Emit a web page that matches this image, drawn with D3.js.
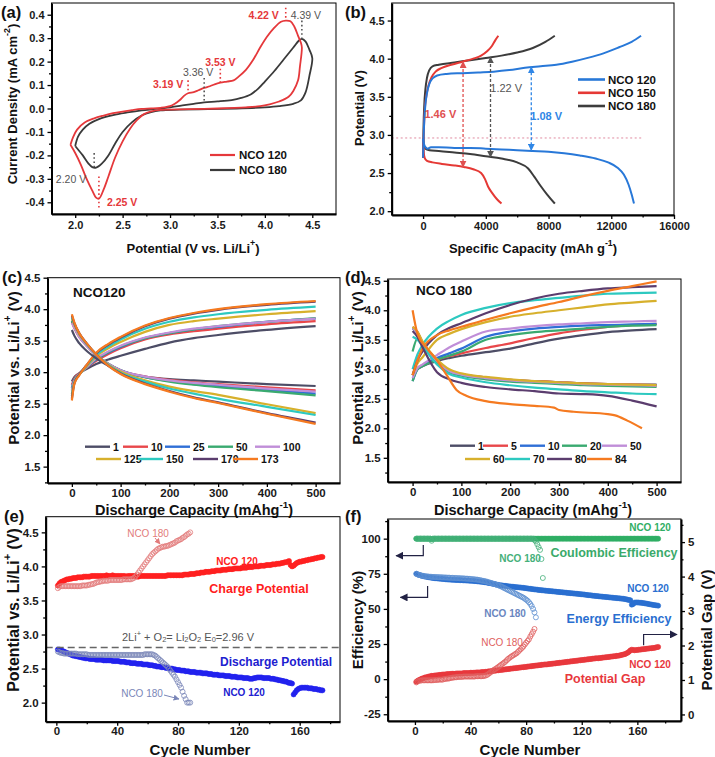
<!DOCTYPE html>
<html><head><meta charset="utf-8">
<script src="https://cdn.jsdelivr.net/npm/d3@7"></script>
<style>body{margin:0;background:#fff}svg{display:block}</style>
</head><body>
<script>
// ================= DATA =================
// (a) cyclic voltammetry, path order
const cvV120=[1.95,1.98,2.02,2.10,2.20,2.30,2.40,2.50,2.60,2.70,2.80,2.90,3.00,3.05,3.10,3.15,3.19,3.25,3.30,3.36,3.42,3.47,3.53,3.60,3.67,3.72,3.80,3.88,3.95,4.02,4.10,4.17,4.22,4.27,4.31,4.35,4.38,4.39,4.37,4.35,4.30,4.25,4.15,4.05,3.95,3.80,3.50,3.20,2.90,2.80,2.72,2.65,2.58,2.50,2.42,2.35,2.30,2.25,2.22,2.18,2.12,2.06,2.00,1.95];
const cvI120=[-0.155,-0.12,-0.09,-0.06,-0.042,-0.03,-0.02,-0.013,-0.007,-0.002,0.0,0.003,0.01,0.02,0.035,0.055,0.065,0.07,0.078,0.088,0.095,0.103,0.11,0.115,0.12,0.135,0.165,0.21,0.26,0.305,0.345,0.37,0.375,0.372,0.35,0.31,0.28,0.26,0.18,0.12,0.075,0.05,0.03,0.018,0.01,0.005,0.0,-0.003,-0.006,-0.012,-0.025,-0.05,-0.085,-0.14,-0.21,-0.29,-0.345,-0.385,-0.38,-0.35,-0.30,-0.24,-0.19,-0.155];
const cvV180=[2.00,2.03,2.08,2.15,2.25,2.40,2.55,2.70,2.85,3.00,3.15,3.25,3.36,3.50,3.65,3.75,3.85,3.93,4.00,4.10,4.20,4.30,4.36,4.39,4.43,4.47,4.50,4.47,4.43,4.38,4.30,4.15,4.00,3.70,3.40,3.10,2.90,2.80,2.70,2.60,2.50,2.42,2.35,2.28,2.22,2.18,2.14,2.08,2.03,2.00];
const cvI180=[-0.16,-0.12,-0.09,-0.065,-0.045,-0.028,-0.017,-0.008,-0.002,0.005,0.014,0.02,0.026,0.03,0.036,0.045,0.06,0.085,0.115,0.16,0.21,0.26,0.29,0.297,0.285,0.25,0.215,0.14,0.07,0.035,0.02,0.01,0.005,0.0,-0.003,-0.005,-0.008,-0.015,-0.03,-0.058,-0.10,-0.15,-0.20,-0.235,-0.252,-0.25,-0.235,-0.20,-0.175,-0.16];
const cvPeaks=[{v:4.22,top:0.43,bot:0.375,c:"red",label:"4.22 V"},{v:4.39,top:0.375,bot:0.30,c:"gray",label:"4.39 V"},{v:3.53,top:0.17,bot:0.11,c:"red",label:"3.53 V"},{v:3.36,top:0.13,bot:0.026,c:"gray",label:"3.36 V"},{v:3.19,top:0.12,bot:0.065,c:"red",label:"3.19 V"},{v:2.20,top:-0.19,bot:-0.25,c:"gray",label:"2.20 V"},{v:2.25,top:-0.29,bot:-0.425,c:"red",label:"2.25 V"}];

// (b) galvanostatic discharge/charge
const bChg120C=[0,30,80,150,250,400,600,900,1500,2500,3500,4500,5500,6500,7500,8500,9500,10500,11500,12500,13300,13900];
const bChg120V=[2.70,2.95,3.20,3.40,3.55,3.67,3.74,3.78,3.80,3.81,3.82,3.83,3.85,3.88,3.90,3.92,3.96,4.01,4.07,4.15,4.22,4.30];
const bDis120C=[0,60,150,300,500,1000,2000,3000,4000,5000,6000,7000,8000,9000,10000,11000,11800,12400,12800,13100,13300,13450];
const bDis120V=[2.95,2.88,2.84,2.82,2.84,2.84,2.83,2.83,2.82,2.81,2.80,2.79,2.78,2.76,2.73,2.69,2.64,2.57,2.48,2.35,2.22,2.10];
const bChg150C=[0,40,100,200,350,550,800,1200,1800,2500,3200,3700,4100,4400,4600,4800];
const bChg150V=[2.70,3.00,3.30,3.50,3.65,3.76,3.83,3.88,3.92,3.96,4.00,4.04,4.10,4.17,4.24,4.30];
const bDis150C=[0,40,100,250,600,1200,2000,2600,3200,3700,3950,4150,4400,4700,5000];
const bDis150V=[2.95,2.78,2.70,2.66,2.64,2.62,2.60,2.58,2.55,2.50,2.42,2.32,2.24,2.16,2.10];
const bChg180C=[0,30,80,150,250,400,600,1000,2000,3000,4000,5000,6000,7000,7800,8400];
const bChg180V=[2.70,3.10,3.40,3.60,3.75,3.85,3.90,3.92,3.95,3.98,4.01,4.04,4.08,4.14,4.22,4.30];
const bDis180C=[0,50,150,400,1000,2000,3000,4000,5000,6000,6700,7100,7500,7900,8400];
const bDis180V=[2.95,2.86,2.82,2.80,2.79,2.77,2.75,2.72,2.69,2.64,2.56,2.45,2.33,2.22,2.10];
const bGaps=[{c:2550,lo:2.58,hi:3.96,label:"1.46 V",col:"#e05050"},{c:4300,lo:2.71,hi:4.02,label:"1.22 V",col:"#555555"},{c:6900,lo:2.80,hi:3.89,label:"1.08 V",col:"#2f86e6"}];
const bEq=2.96;

// (c) NCO120 selected cycles
const capC=[0,5,15,30,50,75,100,150,200,250,300,400,500];
const cyclesC=["1","10","25","50","100","125","150","170","173"];
const chgC=[
[2.85,2.92,2.98,3.05,3.13,3.20,3.26,3.37,3.47,3.54,3.59,3.67,3.73],
[2.80,2.90,2.98,3.07,3.18,3.29,3.38,3.52,3.60,3.65,3.69,3.76,3.81],
[2.75,2.88,2.97,3.07,3.20,3.31,3.40,3.54,3.62,3.68,3.72,3.80,3.85],
[2.72,2.87,2.97,3.08,3.21,3.32,3.41,3.54,3.62,3.68,3.73,3.80,3.86],
[2.70,2.86,2.97,3.08,3.22,3.33,3.42,3.55,3.63,3.69,3.73,3.80,3.85],
[2.65,2.84,2.96,3.09,3.25,3.38,3.48,3.64,3.75,3.81,3.85,3.92,3.97],
[2.62,2.83,2.96,3.10,3.27,3.41,3.52,3.69,3.80,3.87,3.92,3.99,4.04],
[2.58,2.82,2.96,3.11,3.30,3.44,3.55,3.73,3.85,3.93,3.99,4.07,4.12],
[2.55,2.81,2.95,3.11,3.31,3.45,3.56,3.74,3.86,3.94,4.00,4.08,4.13]];
const disC=[
[3.67,3.58,3.46,3.34,3.22,3.10,3.01,2.93,2.89,2.87,2.85,2.81,2.78],
[3.80,3.70,3.56,3.42,3.27,3.13,3.03,2.93,2.88,2.84,2.81,2.76,2.71],
[3.82,3.72,3.57,3.43,3.27,3.13,3.03,2.92,2.86,2.81,2.78,2.72,2.66],
[3.82,3.72,3.57,3.43,3.27,3.13,3.03,2.92,2.85,2.80,2.76,2.70,2.63],
[3.78,3.70,3.56,3.42,3.27,3.13,3.03,2.93,2.87,2.83,2.80,2.74,2.69],
[3.85,3.75,3.60,3.45,3.28,3.12,3.01,2.87,2.77,2.70,2.64,2.49,2.35],
[3.87,3.77,3.61,3.45,3.28,3.11,2.99,2.85,2.74,2.66,2.58,2.45,2.32],
[3.90,3.78,3.62,3.46,3.28,3.10,2.98,2.82,2.70,2.60,2.52,2.35,2.20],
[3.92,3.79,3.62,3.46,3.28,3.10,2.97,2.81,2.69,2.59,2.51,2.34,2.18]];

// (d) NCO 180 selected cycles
const capD=[0,10,20,50,75,100,150,200,250,300,350,400,450,500];
const cyclesD=["1","5","10","20","50","60","70","80","84"];
const chgD=[
[2.90,3.00,3.05,3.14,3.19,3.23,3.29,3.35,3.44,3.52,3.58,3.63,3.66,3.68],
[2.90,3.02,3.07,3.16,3.22,3.27,3.36,3.44,3.53,3.61,3.67,3.72,3.75,3.77],
[2.80,3.00,3.06,3.19,3.27,3.35,3.55,3.64,3.69,3.72,3.74,3.75,3.76,3.77],
[2.80,3.00,3.05,3.16,3.23,3.30,3.50,3.58,3.63,3.66,3.69,3.72,3.74,3.75],
[2.85,3.02,3.08,3.24,3.37,3.47,3.64,3.69,3.73,3.76,3.78,3.80,3.81,3.82],
[2.90,3.10,3.20,3.50,3.60,3.68,3.80,3.89,3.95,4.00,4.05,4.10,4.13,4.16],
[3.00,3.25,3.41,3.69,3.82,3.92,4.04,4.12,4.17,4.21,4.25,4.28,4.29,4.30],
[2.90,3.15,3.30,3.58,3.70,3.78,3.95,4.09,4.20,4.28,4.33,4.37,4.39,4.41],
[2.90,3.15,3.35,3.58,3.66,3.72,3.84,3.95,4.05,4.14,4.24,4.33,4.41,4.49]];
const disD=[
[3.70,3.62,3.45,3.15,2.98,2.92,2.86,2.82,2.80,2.78,2.76,2.75,2.74,2.74],
[3.72,3.63,3.46,3.15,2.98,2.92,2.86,2.82,2.80,2.78,2.76,2.75,2.74,2.73],
[3.70,3.62,3.45,3.13,2.97,2.91,2.85,2.81,2.79,2.77,2.75,2.74,2.73,2.73],
[3.30,3.52,3.42,3.10,2.95,2.89,2.83,2.79,2.77,2.75,2.73,2.72,2.71,2.70],
[3.70,3.62,3.45,3.14,2.97,2.91,2.85,2.81,2.79,2.77,2.75,2.74,2.73,2.72],
[3.72,3.64,3.48,3.17,3.00,2.93,2.87,2.83,2.80,2.78,2.76,2.75,2.74,2.73],
[3.55,3.50,3.40,3.08,2.92,2.86,2.78,2.73,2.69,2.66,2.63,2.61,2.59,2.58],
[3.65,3.55,3.38,2.95,2.83,2.77,2.70,2.66,2.63,2.59,2.58,2.55,2.47,2.37],
null];
const capD84=[0,10,30,50,70,90,110,150,200,250,290,300,330,400,415,440,470];
const disD84=[4.00,3.60,3.35,3.15,2.90,2.65,2.55,2.46,2.41,2.38,2.35,2.31,2.28,2.24,2.22,2.13,2.00];
const lineColors=["#4d4d66","#e8474a","#2f6fd6","#3aaa70","#c08ed8","#d7b02c","#2dc9c0","#5b3d6e","#f57a20"];

// (e) cycling potentials (cycle n = index+1)
const chg120=[3.72,3.75,3.77,3.78,3.79,3.80,3.81,3.81,3.82,3.82,
3.83,3.83,3.83,3.84,3.84,3.84,3.84,3.85,3.85,3.85,
3.85,3.85,3.86,3.86,3.86,3.86,3.86,3.86,3.86,3.86,
3.86,3.86,3.87,3.86,3.86,3.86,3.87,3.86,3.86,3.86,
3.86,3.86,3.86,3.86,3.86,3.85,3.86,3.86,3.86,3.86,
3.86,3.86,3.85,3.85,3.86,3.86,3.86,3.86,3.86,3.86,
3.86,3.86,3.86,3.86,3.86,3.86,3.86,3.86,3.86,3.86,
3.86,3.86,3.87,3.87,3.87,3.87,3.87,3.87,3.87,3.87,
3.87,3.87,3.87,3.88,3.88,3.88,3.88,3.89,3.89,3.89,
3.89,3.90,3.90,3.90,3.91,3.91,3.91,3.92,3.92,3.92,
3.92,3.93,3.93,3.93,3.94,3.94,3.94,3.94,3.95,3.95,
3.95,3.95,3.96,3.96,3.96,3.96,3.97,3.97,3.97,3.97,
3.97,3.98,3.98,3.98,3.98,3.99,3.99,3.99,3.99,4.00,
4.00,4.00,4.00,4.01,4.01,4.01,4.01,4.02,4.02,4.02,
4.02,4.03,4.03,4.03,4.04,4.04,4.04,4.05,4.05,4.06,
4.06,4.07,4.08,4.02,4.00,
4.01,4.03,4.05,4.06,4.07,4.07,4.08,4.08,4.09,4.09,
4.10,4.10,4.11,4.11,4.12,4.12,4.13,4.13,4.14,4.14];
const dis120=[2.78,2.78,2.77,2.76,2.75,2.74,2.73,2.72,2.71,2.70,
2.69,2.69,2.68,2.68,2.67,2.67,2.66,2.66,2.65,2.65,
2.65,2.64,2.64,2.64,2.64,2.63,2.63,2.63,2.63,2.63,
2.62,2.62,2.62,2.62,2.62,2.62,2.61,2.61,2.61,2.61,
2.61,2.60,2.60,2.60,2.60,2.59,2.59,2.59,2.58,2.58,
2.58,2.58,2.57,2.57,2.57,2.57,2.56,2.56,2.56,2.56,
2.55,2.55,2.55,2.54,2.54,2.53,2.53,2.53,2.52,2.52,
2.52,2.51,2.51,2.50,2.50,2.50,2.49,2.49,2.48,2.48,
2.48,2.47,2.47,2.47,2.46,2.46,2.46,2.45,2.45,2.45,
2.45,2.44,2.44,2.44,2.44,2.43,2.43,2.43,2.43,2.42,
2.42,2.42,2.41,2.41,2.41,2.41,2.40,2.40,2.40,2.40,
2.39,2.39,2.39,2.39,2.38,2.38,2.38,2.38,2.37,2.37,
2.37,2.37,2.36,2.36,2.36,2.36,2.35,2.35,2.35,2.36,
2.36,2.37,2.37,2.37,2.37,2.36,2.36,2.36,2.36,2.36,
2.35,2.35,2.35,2.34,2.34,2.33,2.33,2.32,2.32,2.31,
2.31,2.30,2.29,2.29,2.28,
2.12,2.15,2.18,2.20,2.21,2.22,2.22,2.22,2.22,2.22,
2.21,2.21,2.21,2.20,2.20,2.20,2.19,2.19,2.18,2.18];
const chg180=[3.68,3.70,3.71,3.71,3.71,3.71,3.71,3.71,3.71,3.71,
3.71,3.71,3.71,3.71,3.71,3.71,3.72,3.72,3.72,3.72,
3.73,3.73,3.74,3.74,3.75,3.76,3.77,3.77,3.78,3.78,
3.79,3.79,3.79,3.79,3.80,3.80,3.80,3.80,3.80,3.80,
3.80,3.80,3.80,3.81,3.81,3.81,3.81,3.81,3.81,3.82,
3.83,3.85,3.88,3.91,3.94,3.97,4.00,4.03,4.06,4.09,
4.12,4.15,4.18,4.20,4.22,4.24,4.26,4.27,4.28,4.29,
4.29,4.30,4.30,4.31,4.32,4.33,4.34,4.35,4.37,4.38,
4.39,4.40,4.42,4.43,4.45,4.47,4.48,4.50];
const dis180=[2.75,2.74,2.73,2.73,2.72,2.72,2.72,2.72,2.72,2.72,
2.72,2.72,2.72,2.71,2.71,2.71,2.71,2.71,2.71,2.71,
2.70,2.70,2.70,2.70,2.70,2.70,2.70,2.70,2.70,2.70,
2.70,2.70,2.70,2.70,2.70,2.70,2.70,2.70,2.70,2.70,
2.70,2.70,2.70,2.70,2.70,2.70,2.70,2.70,2.70,2.70,
2.70,2.70,2.70,2.70,2.70,2.70,2.70,2.71,2.71,2.71,
2.71,2.71,2.71,2.70,2.69,2.67,2.65,2.63,2.61,2.59,
2.57,2.55,2.53,2.50,2.47,2.44,2.41,2.38,2.34,2.30,
2.26,2.22,2.16,2.10,2.05,2.00,2.00,2.00];
const e0Line=2.81;

// (f) efficiencies and potential gap
const ce120=[100,100,100,100,100,100,100,100,100,100,100,99.6,100,100,100,100,100,100,100,100,
100,100,100,100,100,100,100,100,100,100,100,100,100,100,100,100,100,100,100,100,
100,100,100,100,100,100,100,100,100,100,100,100,100,100,100,100,100,100,100,100,
100,100,100,100,100,100,100,100,100,100,100,100,100,100,100,100,100,100,100,100,
100,100,100,100,100,100,100,100,100,100,100,100,100,100,100,100,100,100,100,100,
100,100,100,100,100,100,100,100,100,100,100,100,100,100,100,100,100,100,100,100,
100,100,100,100,100,100,100,100,100,100,100,100,100,100,100,100,100,100,100,100,
100,100,100,100,100,100,100,100,100,100,100,100,100,100,100,100,100,100,100,100,
100,100,100,100,100,100,100,100,100,100,100,100,100,100,100];
const ce180=[100,100,100,100,100,100,100,100,100,100,100,98.5,100,100,100,100,100,100,100,100,
100,100,100,100,100,100,100,100,100,100,100,100,100,100,100,100,100,100,100,100,
100,100,100,100,100,100,100,100,100,100,100,100,100,100,100,100,100,100,100,100,
100,100,100,100,100,100,100,100,100,100,100,100,100,100,100,100,100,100,100,100,
100,100,100,100,100,99,98,96,94,92,85.5,72];
const ee120=[75.0,74.6,74.2,73.9,73.6,73.3,73.1,72.9,72.7,72.5,
72.3,72.2,72.0,71.9,71.8,71.7,71.6,71.5,71.4,71.3,
71.2,71.1,71.0,70.9,70.9,70.8,70.7,70.7,70.6,70.6,
70.5,70.5,70.4,70.4,70.3,70.3,70.2,70.2,70.1,70.0,
70.0,69.9,69.8,69.7,69.6,69.5,69.4,69.3,69.2,69.0,
68.9,68.7,68.5,68.3,68.1,67.9,67.7,67.5,67.3,67.1,
66.9,66.8,66.6,66.5,66.4,66.3,66.1,66.0,65.9,65.8,
65.7,65.6,65.5,65.4,65.3,65.2,65.1,65.0,64.8,64.7,
64.6,64.4,64.3,64.2,64.0,63.9,63.8,63.7,63.5,63.4,
63.3,63.2,63.1,63.0,62.9,62.8,62.7,62.6,62.5,62.4,
62.3,62.2,62.1,62.0,61.9,61.8,61.7,61.6,61.5,61.4,
61.3,61.2,61.1,61.0,60.9,60.8,60.7,60.6,60.5,60.4,
60.3,60.2,60.0,59.9,59.8,59.7,59.6,59.4,59.3,59.2,
59.1,59.0,58.9,58.8,58.7,58.6,58.5,58.4,58.3,58.2,
58.1,58.0,57.9,57.8,57.7,57.6,57.5,57.4,57.3,57.2,
57.0,56.8,56.6,56.4,56.2,
53.0,53.5,54.5,54.6,54.6,54.5,54.4,54.3,54.2,54.0,
53.9,53.7,53.5,53.3,53.1,52.9,52.7,52.6,52.5,52.3];
const ee180=[75.0,74.5,74.2,73.9,73.7,73.5,73.3,73.2,73.1,73.0,
72.9,72.8,72.8,72.7,72.7,72.6,72.6,72.5,72.5,72.4,
72.4,72.3,72.3,72.2,72.2,72.1,72.1,72.0,72.0,71.9,
71.9,71.8,71.8,71.7,71.7,71.6,71.5,71.5,71.4,71.3,
71.2,71.1,71.0,70.9,70.8,70.6,70.4,70.2,70.0,69.8,
69.6,69.3,69.0,68.7,68.4,68.1,67.8,67.5,67.1,66.8,
66.4,66.0,65.5,65.0,64.5,64.0,63.5,63.0,62.5,62.0,
61.5,61.0,60.5,60.0,59.5,59.0,58.5,58.0,57.3,56.6,
55.8,54.8,53.5,52.0,50.0,47.5,44.0];
const gap120=[0.95,0.98,1.00,1.02,1.04,1.05,1.07,1.08,1.09,1.10,
1.11,1.12,1.12,1.13,1.13,1.14,1.14,1.15,1.15,1.16,
1.16,1.16,1.17,1.17,1.17,1.18,1.18,1.18,1.18,1.19,
1.19,1.19,1.19,1.19,1.20,1.20,1.20,1.20,1.20,1.21,
1.21,1.21,1.21,1.22,1.22,1.22,1.22,1.23,1.23,1.23,
1.24,1.24,1.25,1.25,1.26,1.26,1.27,1.27,1.28,1.28,
1.29,1.29,1.30,1.30,1.31,1.31,1.32,1.32,1.33,1.33,
1.34,1.34,1.35,1.35,1.36,1.36,1.37,1.37,1.38,1.38,
1.39,1.39,1.40,1.40,1.41,1.41,1.42,1.42,1.43,1.43,
1.44,1.44,1.45,1.45,1.45,1.46,1.46,1.47,1.47,1.48,
1.48,1.49,1.49,1.50,1.50,1.51,1.51,1.52,1.52,1.53,
1.53,1.54,1.54,1.55,1.55,1.56,1.56,1.57,1.57,1.58,
1.58,1.59,1.59,1.60,1.60,1.61,1.61,1.62,1.62,1.63,
1.63,1.63,1.64,1.64,1.65,1.65,1.66,1.66,1.67,1.67,
1.68,1.68,1.69,1.69,1.70,1.70,1.71,1.72,1.73,1.74,
1.75,1.77,1.79,1.82,1.86,
1.88,1.87,1.86,1.87,1.87,1.88,1.88,1.89,1.89,1.90,
1.90,1.91,1.91,1.92,1.92,1.93,1.93,1.94,1.95,1.96];
const gap180=[0.93,0.96,0.98,0.98,0.99,0.99,0.99,0.99,0.99,0.99,
0.99,0.99,0.99,1.00,1.00,1.00,1.01,1.01,1.01,1.01,
1.03,1.03,1.04,1.04,1.05,1.06,1.07,1.07,1.08,1.08,
1.09,1.09,1.09,1.09,1.10,1.10,1.10,1.10,1.10,1.10,
1.10,1.10,1.10,1.11,1.11,1.11,1.11,1.11,1.11,1.12,
1.13,1.15,1.18,1.21,1.24,1.27,1.30,1.32,1.35,1.38,
1.41,1.44,1.47,1.50,1.53,1.57,1.61,1.64,1.67,1.70,
1.72,1.75,1.77,1.81,1.85,1.89,1.93,1.97,2.03,2.08,
2.13,2.18,2.26,2.33,2.40,2.48];

// ================= DRAWING =================
const FONT='"Liberation Sans", Arial, Helvetica, sans-serif';
const svg=d3.select("body").append("svg").attr("width",715).attr("height",757);
const defs=svg.append("defs");
function marker(id,col,sz){
  defs.append("marker").attr("id",id).attr("viewBox","0 0 10 10").attr("refX",9).attr("refY",5)
    .attr("markerWidth",sz).attr("markerHeight",sz).attr("orient","auto-start-reverse").attr("markerUnits","userSpaceOnUse")
    .append("path").attr("d","M0,0 L10,5 L0,10 z").attr("fill",col);
}
marker("arR","#e05050",7);marker("arK","#555555",7);marker("arB","#2f86e6",7);
marker("arE1","#e27b7b",6);marker("arE2","#7a86b8",6);marker("arF","#222244",8);

const fmt1=v=>v.toFixed(1), fmt0=v=>String(v);
function panel(o){
  const x=d3.scaleLinear().domain(o.xd).range([o.l,o.r]);
  const y=d3.scaleLinear().domain(o.yd).range([o.b,o.t]);
  const g=svg.append("g");
  const data=g.append("g");
  const ax=g.append("g");
  ax.append("rect").attr("x",o.l).attr("y",o.t).attr("width",o.r-o.l).attr("height",o.b-o.t)
    .attr("fill","none").attr("stroke","#000").attr("stroke-width",1);
  const fs=o.fs||11, pad=o.pad||3;
  ax.append("g").attr("transform",`translate(0,${o.b})`)
    .call(d3.axisBottom(x).tickValues(o.xMaj).tickFormat(o.xFmt).tickSize(4).tickSizeOuter(0).tickPadding(pad));
  ax.append("g").attr("transform",`translate(0,${o.b})`)
    .call(d3.axisBottom(x).tickValues(o.xMin).tickFormat("").tickSize(2.5).tickSizeOuter(0)).select(".domain").remove();
  ax.append("g").attr("transform",`translate(${o.l},0)`)
    .call(d3.axisLeft(y).tickValues(o.yMaj).tickFormat(o.yFmt).tickSize(4).tickSizeOuter(0).tickPadding(3));
  ax.append("g").attr("transform",`translate(${o.l},0)`)
    .call(d3.axisLeft(y).tickValues(o.yMin).tickFormat("").tickSize(2.5).tickSizeOuter(0)).select(".domain").remove();
  let y2=null;
  if(o.y2){
    y2=d3.scaleLinear().domain(o.y2.yd).range([o.b,o.t]);
    ax.append("g").attr("transform",`translate(${o.r},0)`)
      .call(d3.axisRight(y2).tickValues(o.y2.maj).tickFormat(fmt0).tickSize(4).tickSizeOuter(0).tickPadding(3));
    ax.append("g").attr("transform",`translate(${o.r},0)`)
      .call(d3.axisRight(y2).tickValues(o.y2.min).tickFormat("").tickSize(2.5).tickSizeOuter(0)).select(".domain").remove();
  }
  ax.selectAll(".domain").attr("stroke","#000").attr("stroke-width",2);
  ax.selectAll(".tick line").attr("stroke","#000").attr("stroke-width",1.3);
  ax.selectAll(".tick text").attr("font-family",FONT).attr("font-weight","bold").attr("font-size",fs).attr("fill","#1a1a1a");
  return {x,y,y2,data,ax};
}
function rich(t,parts,fs){
  let cur=0;
  parts.forEach(p=>{
    const s=Array.isArray(p)?p[0]:p, k=Array.isArray(p)?p[1]:null;
    const tgt=k==="sup"?-0.4*fs:(k==="sub"?0.22*fs:0);
    t.append("tspan").attr("dy",tgt-cur).attr("font-size",k?fs*0.68:fs).text(s);
    cur=tgt;
  });
}
function label(x,y,parts,o={}){
  const fs=o.fs||12;
  const g=svg.append("g").attr("transform",`translate(${x},${y})`+(o.rot?` rotate(${o.rot})`:""));
  const t=g.append("text").attr("font-family",FONT).attr("font-weight",o.w||"bold").attr("font-size",fs)
    .attr("fill",o.c||"#111").attr("text-anchor",o.a||"middle").attr("dominant-baseline","central");
  rich(t,typeof parts==="string"?[parts]:parts,fs);
  return t;
}

// ---------- (a) ----------
{
  const P=panel({l:51.5,r:336,t:3,b:214,xd:[1.75,4.75],yd:[-0.45,0.45],
    xMaj:[2,2.5,3,3.5,4,4.5],xMin:[2.25,2.75,3.25,3.75,4.25],xFmt:fmt1,
    yMaj:[-0.4,-0.3,-0.2,-0.1,0,0.1,0.2,0.3,0.4],yMin:[-0.35,-0.25,-0.15,-0.05,0.05,0.15,0.25,0.35],yFmt:fmt1,fs:11});
  const ln=d3.line().x(d=>P.x(d[0])).y(d=>P.y(d[1])).curve(d3.curveCatmullRom.alpha(0.5));
  const c120="#e5383b", c180="#3a3a3a";
  P.data.append("path").attr("d",ln(d3.zip(cvV180,cvI180))).attr("fill","none").attr("stroke",c180).attr("stroke-width",1.8);
  P.data.append("path").attr("d",ln(d3.zip(cvV120,cvI120))).attr("fill","none").attr("stroke",c120).attr("stroke-width",1.8);
  cvPeaks.forEach(p=>{
    const col=p.c==="red"?c120:"#555";
    P.data.append("line").attr("x1",P.x(p.v)).attr("x2",P.x(p.v)).attr("y1",P.y(p.top)).attr("y2",P.y(p.bot))
      .attr("stroke",col).attr("stroke-width",1.6).attr("stroke-dasharray","1.6,2.6");
  });
  const lab=(v,dx,yv,s,col,a,w)=>label(P.x(v)+dx,P.y(yv),s,{fs:10.5,c:col,a:a||"middle",w:w||"bold"});
  lab(4.22,-7,0.40,"4.22 V",c120,"end");
  lab(4.39,4,0.40,"4.39 V","#555","middle","normal");
  lab(3.53,0,0.20,"3.53 V",c120);
  lab(3.36,-6,0.155,"3.36 V","#555","middle","normal");
  lab(3.19,-20,0.105,"3.19 V",c120);
  lab(2.20,-8,-0.30,"2.20 V","#555","end","normal");
  lab(2.25,8,-0.40,"2.25 V",c120,"start");
  [[c120,"NCO 120",155],[c180,"NCO 180",170]].forEach(d=>{
    svg.append("line").attr("x1",210).attr("x2",235).attr("y1",d[2]).attr("y2",d[2]).attr("stroke",d[0]).attr("stroke-width",2.2);
    label(239,d[2],d[1],{fs:11.5,a:"start"});
  });
  label(193,248,["Potential (V vs. Li/Li",["+","sup"],")"],{fs:13});
  label(12,104,["Current Density (mA cm",["-2","sup"],")"],{fs:13,rot:-90});
  label(1,12,"(a)",{fs:16.5,a:"start"});
}

// ---------- (b) ----------
{
  const P=panel({l:391.7,r:674,t:3,b:215,xd:[-2000,16000],yd:[1.95,4.73],
    xMaj:[0,4000,8000,12000,16000],xMin:[2000,6000,10000,14000],xFmt:fmt0,
    yMaj:[2,2.5,3,3.5,4,4.5],yMin:[2.25,2.75,3.25,3.75,4.25],yFmt:fmt1,fs:11});
  const ln=d3.line().x(d=>P.x(d[0])).y(d=>P.y(d[1])).curve(d3.curveMonotoneX);
  P.data.append("line").attr("x1",P.x(-2000)).attr("x2",P.x(14000)).attr("y1",P.y(bEq)).attr("y2",P.y(bEq))
    .attr("stroke","#e08aa0").attr("stroke-width",1).attr("stroke-dasharray","2,2.5");
  const series=[[bChg180C,bChg180V,"#3c3c3c"],[bDis180C,bDis180V,"#3c3c3c"],[bChg150C,bChg150V,"#e53935"],[bDis150C,bDis150V,"#e53935"],[bChg120C,bChg120V,"#2878d8"],[bDis120C,bDis120V,"#2878d8"]];
  series.forEach(s=>P.data.append("path").attr("d",ln(d3.zip(s[0],s[1]))).attr("fill","none").attr("stroke",s[2]).attr("stroke-width",2));
  const mk={"#e05050":"arR","#555555":"arK","#2f86e6":"arB"};
  bGaps.forEach(gp=>{
    P.data.append("line").attr("x1",P.x(gp.c)).attr("x2",P.x(gp.c)).attr("y1",P.y(gp.lo)).attr("y2",P.y(gp.hi))
      .attr("stroke",gp.col).attr("stroke-width",1.3).attr("stroke-dasharray","3,2")
      .attr("marker-start",`url(#${mk[gp.col]})`).attr("marker-end",`url(#${mk[gp.col]})`);
  });
  label(P.x(1100),P.y(3.27),"1.46 V",{fs:11,c:"#e05050"});
  label(P.x(5300),P.y(3.61),"1.22 V",{fs:11,c:"#555",w:"normal"});
  label(P.x(7850),P.y(3.25),"1.08 V",{fs:11,c:"#2f86e6"});
  [["#2878d8","NCO 120",79.5],["#e53935","NCO 150",92.8],["#3c3c3c","NCO 180",106]].forEach(d=>{
    svg.append("line").attr("x1",578).attr("x2",605).attr("y1",d[2]).attr("y2",d[2]).attr("stroke",d[0]).attr("stroke-width",2.6);
    label(608,d[2],d[1],{fs:11.5,a:"start"});
  });
  label(533,248,["Specific Capacity (mAh g",["-1","sup"],")"],{fs:13});
  label(359,108,"Potential (V)",{fs:13,rot:-90});
  label(345,12,"(b)",{fs:16.5,a:"start"});
}

// ---------- (c) & (d) ----------
function cyclePanel(o){
  const P=panel({l:o.l,r:o.r,t:o.t,b:o.b,xd:o.xd,yd:o.yd,
    xMaj:[0,100,200,300,400,500],xMin:[50,150,250,350,450],xFmt:fmt0,
    yMaj:[1.5,2,2.5,3,3.5,4,4.5],yMin:[1.25,1.75,2.25,2.75,3.25,3.75,4.25],yFmt:fmt1,fs:11.5,pad:2});
  const ln=d3.line().x(d=>P.x(d[0])).y(d=>P.y(d[1])).curve(d3.curveMonotoneX);
  o.chg.forEach((arr,i)=>{
    P.data.append("path").attr("d",ln(d3.zip(o.cap,arr))).attr("fill","none").attr("stroke",lineColors[i]).attr("stroke-width",2.2);
  });
  o.dis.forEach((arr,i)=>{
    const pts=arr?d3.zip(o.cap,arr):d3.zip(o.capX,o.disX);
    P.data.append("path").attr("d",ln(pts)).attr("fill","none").attr("stroke",lineColors[i]).attr("stroke-width",2.2);
  });
  o.leg.forEach((it,i)=>{
    svg.append("line").attr("x1",it[0]).attr("x2",it[0]+25).attr("y1",it[1]).attr("y2",it[1]).attr("stroke",lineColors[i]).attr("stroke-width",2.4);
    label(it[0]+28,it[1],o.names[i],{fs:10.5,a:"start"});
  });
  label(o.tx,o.ty,o.title,{fs:13.5,a:"start"});
  return P;
}
cyclePanel({l:47.5,r:340,t:277.7,b:483,xd:[-50,550],yd:[1.24,4.5],cap:capC,chg:chgC,dis:disC,names:cyclesC,
  leg:[[85,446.7],[123,446.7],[165,446.7],[208,446.7],[255,446.7],[96,459],[138,459],[193,459],[233,459]],
  title:"NCO120",tx:73,ty:292});
cyclePanel({l:387.7,r:681,t:279,b:482,xd:[-51,550],yd:[1.09,4.53],cap:capD,chg:chgD,dis:disD,capX:capD84,disX:disD84,names:cyclesD,
  leg:[[450,445.7],[483,445.7],[520,445.7],[562,445.7],[602,445.7],[465,459],[505,459],[547,459],[587,459]],
  title:"NCO 180",tx:416,ty:290});
label(194,510,["Discharge Capacity (mAhg",["-1","sup"],")"],{fs:14.5});
label(533,510,["Discharge Capacity (mAhg",["-1","sup"],")"],{fs:14.5});
label(13,368,["Potential vs. Li/Li",["+","sup"]," (V)"],{fs:15,rot:-90});
label(357,368,["Potential vs. Li/Li",["+","sup"]," (V)"],{fs:15,rot:-90});
label(2,277,"(c)",{fs:16.5,a:"start"});
label(345,277,"(d)",{fs:16.5,a:"start"});

// ---------- (e) ----------
{
  const P=panel({l:45.7,r:340,t:516.7,b:721.7,xd:[-7,186.5],yd:[1.72,4.73],
    xMaj:[0,40,80,120,160],xMin:[20,60,100,140,180],xFmt:fmt0,
    yMaj:[2,2.5,3,3.5,4,4.5],yMin:[2.25,2.75,3.25,3.75,4.25],yFmt:fmt1,fs:11.5,pad:1.5});
  const dots=(arr,col,open)=>{
    P.data.append("g").selectAll("circle").data(arr).join("circle")
      .attr("cx",(d,i)=>P.x(i+1)).attr("cy",d=>P.y(d)).attr("r",2.5)
      .attr("fill",open?"none":col).attr("stroke",col).attr("stroke-width",open?0.8:0.6);
  };
  dots(chg120,"#ff2020",false);
  dots(dis120,"#2222ee",false);
  dots(chg180,"#e27b7b",true);
  dots(dis180,"#7a86b8",true);
  P.data.append("line").attr("x1",P.x(-7)).attr("x2",P.x(186.5)).attr("y1",P.y(e0Line)).attr("y2",P.y(e0Line))
    .attr("stroke","#666").attr("stroke-width",1.4).attr("stroke-dasharray","7,4");
  label(148,533,"NCO 180",{fs:10,c:"#e27b7b",w:"normal"});
  svg.append("line").attr("x1",155).attr("y1",538).attr("x2",160).attr("y2",544).attr("stroke","#e27b7b").attr("stroke-width",1).attr("marker-end","url(#arE1)");
  label(237,561,"NCO 120",{fs:10,c:"#ff2020"});
  label(259,589,"Charge Potential",{fs:12.5,c:"#ff2020"});
  label(188,637,["2Li",["+","sup"]," + O",["2","sub"],"= Li",["2","sub"],"O",["2","sub"]," E",["0","sub"],"=2.96 V"],{fs:11,c:"#555",w:"normal"});
  label(276,662,"Discharge Potential",{fs:12,c:"#2020d0"});
  label(142,693,"NCO 180",{fs:10,c:"#7a86b8",w:"normal"});
  svg.append("line").attr("x1",164).attr("y1",695).attr("x2",179).attr("y2",699).attr("stroke","#7a86b8").attr("stroke-width",1).attr("marker-end","url(#arE2)");
  label(244,692,"NCO 120",{fs:10,c:"#2020d0"});
  label(200,748.5,"Cycle Number",{fs:15});
  label(13,610,["Potential vs. Li/Li",["+","sup"]," (V)"],{fs:16,rot:-90});
  label(4,516,"(e)",{fs:16.5,a:"start"});
}

// ---------- (f) ----------
{
  const P=panel({l:387.7,r:681,t:519,b:721,xd:[-19.6,191.4],yd:[-29.8,114],
    xMaj:[0,40,80,120,160],xMin:[20,60,100,140,180],xFmt:fmt0,
    yMaj:[-25,0,25,50,75,100],yMin:[-12.5,12.5,37.5,62.5,87.5,112.5],yFmt:fmt0,fs:11.5,pad:1.5,
    y2:{yd:[-0.19,5.67],maj:[0,1,2,3,4,5],min:[0.5,1.5,2.5,3.5,4.5,5.5]}});
  const dots=(arr,sc,col,open)=>{
    P.data.append("g").selectAll("circle").data(arr).join("circle")
      .attr("cx",(d,i)=>P.x(i+1)).attr("cy",d=>sc(d)).attr("r",2.5)
      .attr("fill",open?"none":col).attr("stroke",col).attr("stroke-width",open?0.8:0.6);
  };
  dots(gap120,P.y2,"#e8383d",false);
  dots(ee120,P.y,"#2a6fd0",false);
  dots(ce120,P.y,"#2fae64",false);
  dots(gap180,P.y2,"#e06060",true);
  dots(ee180,P.y,"#5d8fd0",true);
  dots(ce180,P.y,"#45b07a",true);
  const arrow=(pts,sc)=>P.data.append("path").attr("d",d3.line().x(d=>P.x(d[0])).y(d=>sc(d[1]))(pts))
      .attr("fill","none").attr("stroke","#222244").attr("stroke-width",1.2).attr("marker-end","url(#arF)");
  arrow([[6,95.5],[6,87.9],[-13.5,87.9]],P.y);
  arrow([[9.1,66.3],[9.1,58.2],[-10.5,58.2]],P.y);
  arrow([[164.5,2.01],[164.5,2.32],[188.5,2.32]],P.y2);
  label(650,527,"NCO 120",{fs:10,c:"#2fae64"});
  label(614,553,"Coulombic Efficiency",{fs:12.5,c:"#3aaa6a"});
  label(520,558,"NCO 180",{fs:10,c:"#45b07a"});
  label(648,588,"NCO 120",{fs:10,c:"#2a6fd0"});
  label(505,613,"NCO 180",{fs:10,c:"#6a86bf"});
  label(619,619,"Energy Efficiency",{fs:12.5,c:"#2a6fd0"});
  label(502,642,"NCO 180",{fs:10,c:"#e06060",w:"normal"});
  label(650,664,"NCO 120",{fs:10,c:"#e8383d"});
  label(605,679,"Potential Gap",{fs:12.5,c:"#e8383d"});
  label(530,748.5,"Cycle Number",{fs:15});
  label(357,620,"Efficiency (%)",{fs:15,rot:-90});
  label(706,630,"Potential Gap (V)",{fs:15,rot:-90});
  label(345,516,"(f)",{fs:16.5,a:"start"});
}
</script>
</body></html>
